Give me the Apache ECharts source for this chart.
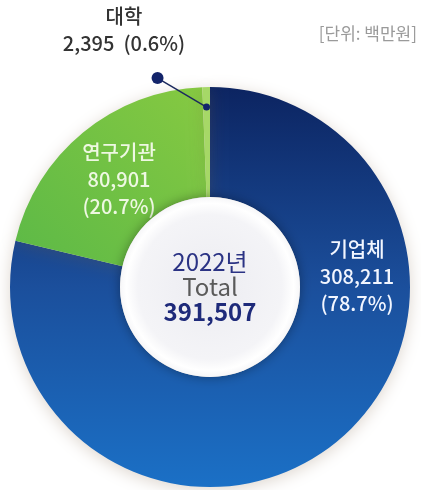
<!DOCTYPE html>
<html>
<head>
<meta charset="utf-8">
<script src="https://cdn.jsdelivr.net/npm/echarts@6/dist/echarts.min.js"></script>
<style>
  html, body { margin: 0; padding: 0; background: #ffffff; }
  #chart { width: 421px; height: 490px; }
</style>
</head>
<body>
<div id="chart"></div>
<script>
// R&D expenditure by performing sector, 2022 (unit: million KRW)
const categories = ['기업체', '연구기관', '대학'];
const values = [308211, 80901, 2395];
const shares = ['78.7%', '20.7%', '0.6%'];
const yearLabel = '2022년';
const unitLabel = '[단위: 백만원]';

const FONT = '"Noto Sans CJK KR", "Noto Sans", sans-serif';
const CX = 210, CY = 287, R_IN = 90, R_OUT = 200;

const total = values.reduce((s, v) => s + v, 0);
const fmt = v => v.toLocaleString('en-US');

const sliceColors = [
  new echarts.graphic.LinearGradient(0, 0, 0, 1, [
    { offset: 0, color: '#0c2461' },
    { offset: 0.5, color: '#1b4f9c' },
    { offset: 1, color: '#1b70c6' }
  ]),
  new echarts.graphic.LinearGradient(0, 1, 1, 0, [
    { offset: 0, color: '#5cb947' },
    { offset: 1, color: '#86c941' }
  ]),
  '#a6d867'
];

const pieData = categories.map((name, i) => ({
  name,
  value: values[i],
  itemStyle: { color: sliceColors[i] }
}));

// label anchor for each sector (text block centre)
const labelSpots = [
  { x: 357, y: 276, color: '#f2f6ff' },
  { x: 119, y: 179, color: '#eef8e2' },
  { x: 124, y: 30, color: '#333333' }
];

// point on the small sector where its leader line starts
const before = values[0] + values[1];
const midFrac = (before + values[2] / 2) / total;
const theta = midFrac * 2 * Math.PI;
const rLead = 180;
const leadX = CX + rLead * Math.sin(theta);
const leadY = CY - rLead * Math.cos(theta);
const dotX = leadX - 49, dotY = leadY - 29;

const chart = echarts.init(document.getElementById('chart'), null, { renderer: 'canvas' });

chart.setOption({
  backgroundColor: '#ffffff',
  animation: false,
  graphic: [
    {
      type: 'text',
      right: 4,
      top: 25,
      style: { text: unitLabel, font: '17px ' + FONT, fill: '#9a9a9a' }
    },
    {
      type: 'line',
      z: 10,
      shape: { x1: dotX, y1: dotY, x2: leadX, y2: leadY },
      style: { stroke: '#1b2a5e', lineWidth: 1.5 }
    },
    {
      type: 'circle',
      z: 11,
      shape: { cx: dotX, cy: dotY, r: 6 },
      style: { fill: '#13246a' }
    },
    {
      type: 'circle',
      z: 11,
      shape: { cx: leadX, cy: leadY, r: 3.5 },
      style: { fill: '#13246a' }
    }
  ],
  series: [
    {
      type: 'pie',
      center: [CX, CY],
      radius: [R_IN, R_OUT],
      startAngle: 90,
      clockwise: true,
      silent: true,
      z: 2,
      itemStyle: {
        shadowBlur: 16,
        shadowColor: 'rgba(120, 90, 60, 0.25)',
        shadowOffsetY: 3
      },
      label: {
        show: true,
        position: 'inside',
        fontFamily: FONT,
        fontSize: 20,
        fontWeight: 500,
        lineHeight: 27,
        align: 'center',
        formatter: p => p.dataIndex === 2
          ? `${p.name}\n${fmt(p.value)}  (${shares[p.dataIndex]})`
          : `${p.name}\n${fmt(p.value)}\n(${shares[p.dataIndex]})`,
        color: '#ffffff'
      },
      labelLine: { show: false },
      labelLayout: p => {
        const s = labelSpots[p.dataIndex];
        return { x: s.x, y: s.y, align: 'center', verticalAlign: 'middle' };
      },
      data: pieData.map((d, i) => Object.assign({}, d, {
        label: { color: labelSpots[i].color }
      }))
    },
    {
      // centre disc carrying the total
      type: 'pie',
      center: [CX, CY],
      radius: [0, R_IN],
      silent: true,
      z: 3,
      itemStyle: {
        color: new echarts.graphic.RadialGradient(0.5, 0.5, 0.5, [
          { offset: 0, color: '#ececf1' },
          { offset: 0.8, color: '#f4f4f7' },
          { offset: 0.93, color: '#ffffff' },
          { offset: 1, color: '#f6f6f8' }
        ]),
        shadowBlur: 12,
        shadowColor: 'rgba(0, 0, 0, 0.35)'
      },
      label: {
        show: true,
        position: 'center',
        fontFamily: FONT,
        formatter: () => `{y|${yearLabel}}\n{t|Total}\n{v|${fmt(total)}}`,
        rich: {
          y: { fontFamily: FONT, fontSize: 24, lineHeight: 25, color: '#2b3384' },
          t: { fontFamily: FONT, fontSize: 24, lineHeight: 25, color: '#5a5a5a' },
          v: { fontFamily: FONT, fontSize: 24, lineHeight: 25, color: '#1e2a7a', fontWeight: 'bold' }
        }
      },
      labelLine: { show: false },
      data: [{ name: 'Total', value: total }]
    }
  ]
});
</script>
</body>
</html>
